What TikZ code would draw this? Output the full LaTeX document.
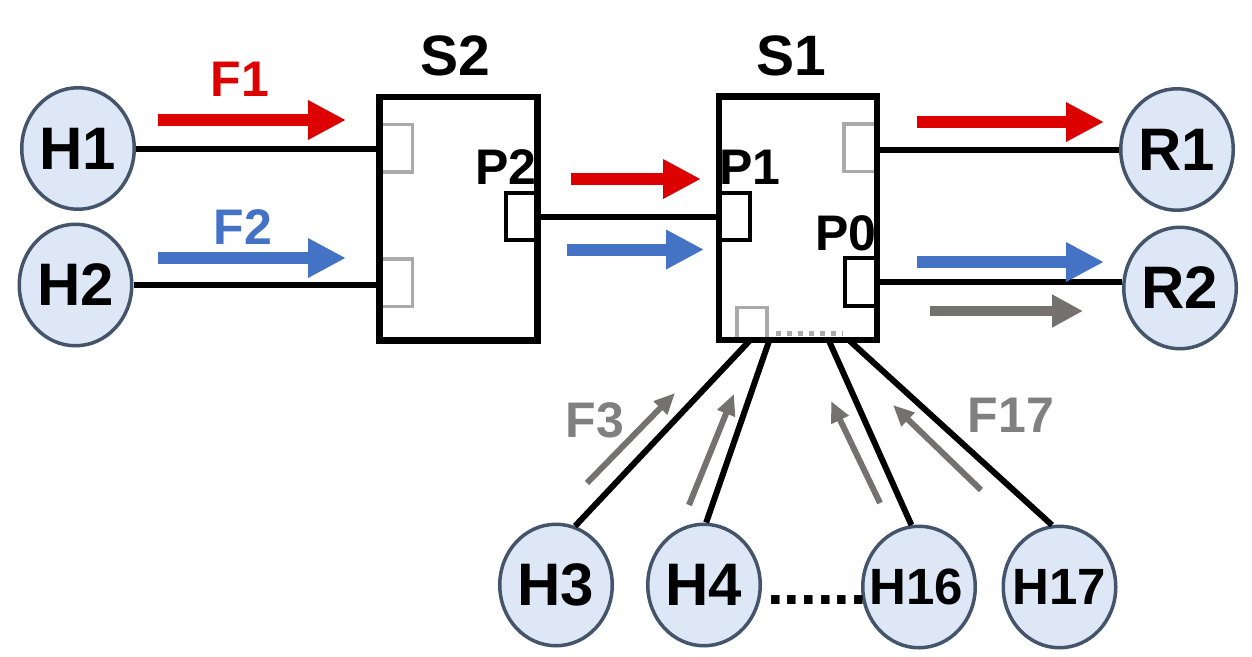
\documentclass[tikz,border=0pt]{standalone}
\usepackage{fontspec}
\setmainfont{Liberation Sans}
\usetikzlibrary{shapes.geometric,arrows.meta,calc}
\definecolor{flowred}{RGB}{220,0,0}
\definecolor{flowblue}{RGB}{68,114,196}
\definecolor{flowgray}{RGB}{118,113,113}
\definecolor{labelgray}{RGB}{128,128,128}
\definecolor{portgray}{RGB}{170,170,170}
\definecolor{hostfill}{RGB}{222,231,245}
\definecolor{hostedge}{RGB}{68,84,106}

\begin{document}
\begin{tikzpicture}[x=1pt,y=-1pt,
  host/.style={ellipse, draw=hostedge, fill=hostfill, line width=3.5pt,
    minimum width=112.5pt, minimum height=121.5pt, inner sep=0pt,
    font=\fontsize{60}{60}\selectfont\bfseries},
  smallhost/.style={host, font=\fontsize{51}{51}\selectfont\bfseries},
  switchbox/.style={draw, line width=6.5pt, minimum width=158pt,
    minimum height=243.5pt, inner sep=0pt, outer sep=0pt},
  grayport/.style={draw=portgray, line width=3.5pt, minimum width=32.5pt,
    minimum height=47.5pt, inner sep=0pt, outer sep=0pt},
  port/.style={draw, line width=4pt, minimum width=31.5pt,
    minimum height=47.5pt, inner sep=0pt, outer sep=0pt},
  title/.style={font=\fontsize{57}{57}\selectfont\bfseries, inner sep=0pt, anchor=base},
  lbl/.style={font=\fontsize{50}{50}\selectfont\bfseries, inner sep=0pt, anchor=base},
  link/.style={line width=6pt},
  bigflow/.style={line width=12pt, -{Triangle[length=38pt,width=37pt]}},
  midflow/.style={line width=10pt, -{Triangle[length=31pt,width=31pt]}},
  thinflow/.style={flowgray, line width=6pt, -{Triangle[length=21pt,width=18pt]}},
]
\useasboundingbox (0,0) rectangle (1252,656);

% ports inside the switches
\node[grayport] (s2a) at (396,148) {};
\node[grayport] (s2b) at (396,282.5) {};
\node[port] (p2) at (521.5,216.5) {};
\node[port] (p1) at (734,216.5) {};
\node[grayport] (s1a) at (860,147.5) {};
\node[port] (p0) at (860.5,282) {};
\node[grayport, minimum width=30pt, minimum height=33pt] (s1b) at (752,324) {};
\draw[portgray, line width=5.5pt, dash pattern=on 5pt off 6pt]
  ($(s1b.east)+(9,9.5)$) -- ($(s1b.east)+(76,9.5)$);

% switches
\node[switchbox] (S2) at (458.5,218.5) {};
\node[switchbox] (S1) at (798,218) {};
\node[title] (S2t) at (455,75) {S2};
\node[title] (S1t) at (791,75) {S1};

% port labels
\node[lbl] (P2t) at (506,184) {P2};
\node[lbl] (P1t) at (750,184) {P1};
\node[lbl] (P0t) at (846,250) {P0};

% hosts and receivers
\node[host] (H1) at (78,148.5) {\makebox[0pt]{H1}};
\node[host] (H2) at (75.5,285) {\makebox[0pt]{H2}};
\node[host] (R1) at (1177,149.5) {\makebox[0pt]{R1}};
\node[host] (R2) at (1180,288) {\makebox[0pt]{R2}};
\node[host] (H3) at (556,585) {\makebox[0pt]{H3}};
\node[host] (H4) at (704,585) {\makebox[0pt]{H4}};
\node[smallhost] (H16) at (919,587) {\makebox[0pt]{\hspace*{-6pt}H16}};
\node[smallhost] (H17) at (1059.5,587) {\makebox[0pt]{H17}};
\node[font=\fontsize{60}{60}\selectfont\bfseries, inner sep=0pt, anchor=base west]
  (dots) at (767,604) {......};

% links
\draw[link] (H1.east) -- (H1.east -| S2.west);
\draw[link] (H2.east) -- (H2.east -| S2.west);
\draw[link] (p2.east) -- (p2.east -| p1.west);
\draw[link] (R1.west -| S1.east) -- (R1.west);
\draw[link] (p0.east) -- (p0.east -| R2.west);
\draw[link] ($(S1.south west)+(31.5,0)$) -- (H3.72);
\draw[link] ($(S1.south west)+(50.5,0)$) -- (H4.88);
\draw[link] ($(S1.south west)+(109.5,0)$) -- (H16.97);
\draw[link] ($(S1.south west)+(129.5,0)$) -- (H17.97);

% flows
\node[lbl, text=flowred] (F1) at (240,96) {F1};
\node[lbl, text=flowblue] (F2) at (243,244) {F2};
\node[lbl, text=labelgray] (F3) at (595,437) {F3};
\node[lbl, text=labelgray] (F17) at (1011,432) {F17};

\draw[bigflow, flowred] (158,120) -- (346,120);
\draw[bigflow, flowblue] (158,258) -- (346,258);
\draw[bigflow, flowred] (571,179) -- (701,179);
\draw[bigflow, flowblue] (567,249.5) -- (704,249.5);
\draw[bigflow, flowred] (917,122) -- (1104,122);
\draw[bigflow, flowblue] (917,262) -- (1104,262);
\draw[midflow, flowgray] (930,311) -- (1083,311);

\draw[thinflow] (587,483) -- (675,393);
\draw[thinflow] (689,505) -- (734,394);
\draw[thinflow] (880,503) -- (831,401);
\draw[thinflow] (981,490) -- (893,405);
\end{tikzpicture}
\end{document}
